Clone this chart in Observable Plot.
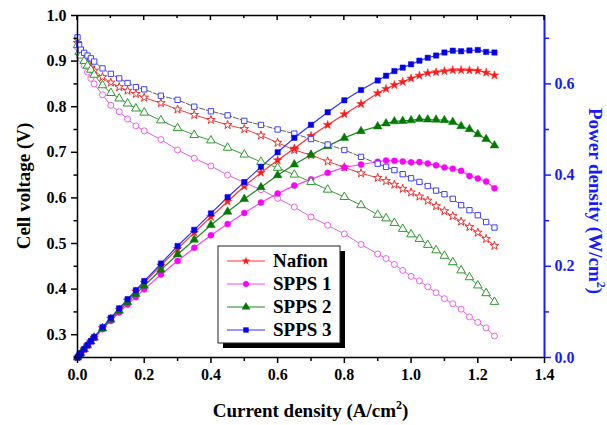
<!DOCTYPE html>
<html><head><meta charset="utf-8">
<script src="https://cdn.jsdelivr.net/npm/d3@7"></script>
<script src="https://cdn.jsdelivr.net/npm/@observablehq/plot@0.6"></script>
<style>body{margin:0;background:#fff}#chart{width:607px;height:425px}</style>
</head><body><div id="chart"></div>
<script>
// ---- data ----
const current = [0,0.005,0.01,0.02,0.03,0.04,0.05,0.075,0.1,0.125,0.15,0.175,0.2,0.25,0.3,0.35,0.4,0.45,0.5,0.55,0.6,0.65,0.7,0.75,0.8,0.85,0.9,0.925,0.95,0.975,1.0,1.025,1.05,1.075,1.1,1.125,1.15,1.175,1.2,1.225,1.25];
const seriesNames = ["Nafion","SPPS 1","SPPS 2","SPPS 3"];

const voltNafion = [0.94,0.925,0.915,0.905,0.895,0.886,0.879,0.865,0.853,0.843,0.835,0.828,0.82,0.808,0.794,0.782,0.771,0.76,0.751,0.737,0.721,0.705,0.694,0.68,0.667,0.654,0.644,0.637,0.629,0.62,0.612,0.603,0.594,0.582,0.571,0.56,0.548,0.536,0.524,0.51,0.495];
const voltSPPS1  = [0.93,0.915,0.905,0.89,0.876,0.862,0.85,0.826,0.803,0.789,0.773,0.758,0.747,0.728,0.705,0.687,0.67,0.65,0.634,0.618,0.599,0.58,0.558,0.54,0.521,0.498,0.477,0.467,0.454,0.441,0.428,0.418,0.405,0.392,0.379,0.368,0.356,0.339,0.327,0.315,0.297];
const voltSPPS2  = [0.935,0.92,0.912,0.9,0.89,0.881,0.87,0.847,0.83,0.818,0.807,0.796,0.787,0.77,0.753,0.738,0.726,0.71,0.695,0.679,0.666,0.651,0.635,0.618,0.602,0.584,0.563,0.555,0.545,0.532,0.52,0.51,0.497,0.485,0.473,0.459,0.441,0.426,0.408,0.391,0.372];
const voltSPPS3  = [0.952,0.935,0.925,0.918,0.912,0.906,0.899,0.884,0.872,0.862,0.852,0.843,0.838,0.824,0.815,0.8,0.79,0.781,0.769,0.76,0.75,0.741,0.729,0.717,0.705,0.69,0.675,0.668,0.661,0.652,0.643,0.635,0.626,0.616,0.608,0.598,0.584,0.573,0.562,0.547,0.535];

const powerNafion = [0,0.0046,0.0092,0.0181,0.0269,0.0354,0.044,0.0649,0.0853,0.1054,0.1253,0.1449,0.164,0.202,0.2382,0.2737,0.3084,0.342,0.3755,0.4054,0.4326,0.4583,0.4858,0.51,0.5336,0.5559,0.5796,0.5892,0.5976,0.6045,0.612,0.6181,0.6237,0.6257,0.6281,0.63,0.6302,0.6298,0.6288,0.6248,0.6188];
const powerSPPS1  = [0,0.0046,0.0091,0.0178,0.0263,0.0345,0.0425,0.062,0.0803,0.0986,0.116,0.1327,0.1494,0.182,0.2115,0.2405,0.268,0.2925,0.317,0.3399,0.3594,0.377,0.3906,0.405,0.4168,0.4233,0.4293,0.432,0.4313,0.43,0.428,0.4285,0.4253,0.4214,0.4169,0.414,0.4094,0.3983,0.3924,0.3859,0.3713];
const powerSPPS2  = [0,0.0046,0.0091,0.018,0.0267,0.0352,0.0435,0.0635,0.083,0.1023,0.121,0.1393,0.1574,0.1925,0.2259,0.2583,0.2904,0.3195,0.3475,0.3735,0.3996,0.4232,0.4445,0.4635,0.4816,0.4964,0.5067,0.5134,0.5178,0.5187,0.52,0.5228,0.5219,0.5214,0.5203,0.5164,0.5072,0.5006,0.4896,0.479,0.465];
const powerSPPS3  = [0,0.0047,0.0093,0.0184,0.0274,0.0362,0.045,0.0663,0.0872,0.1078,0.1278,0.1475,0.1676,0.206,0.2445,0.28,0.316,0.3515,0.3845,0.418,0.45,0.4817,0.5103,0.5378,0.564,0.5865,0.6075,0.6179,0.628,0.6357,0.643,0.6509,0.6573,0.6622,0.6688,0.6728,0.6716,0.6733,0.6744,0.6701,0.6688];

const xTicks = [0,0.2,0.4,0.6,0.8,1.0,1.2,1.4];
const xMinor = [0.1,0.3,0.5,0.7,0.9,1.1,1.3];
const vTicks = [0.3,0.4,0.5,0.6,0.7,0.8,0.9,1.0];
const vMinor = [0.25,0.35,0.45,0.55,0.65,0.75,0.85,0.95];
const pTicks = [0,0.2,0.4,0.6];
const pMinor = [0.1,0.3,0.5,0.7];

// ---- styling ----
const xDomain = [0, 1.4], vDomain = [0.25, 1.0], pDomain = [0, 0.75];
const symbols = ["star","circle","triangle","square"];
const symR = [2.7, 3, 3.2, 3];
const vLine = ["#f04040","#e060e0","#3a9a3a","#606060"];
const vMark = ["#f03030","#f060f0","#2e9a2e","#4040ff"];
const pLine = ["#ff3030","#ff40ff","#1e8a1e","#3030ff"];
const pMark = ["#ff1a1a","#ff00ff","#007a00","#0000ee"];
const BLUE = "#1a1aff";
const FONT = "'Liberation Serif','Times New Roman',serif";

const volts = [voltNafion, voltSPPS1, voltSPPS2, voltSPPS3];
const powers = [powerNafion, powerSPPS1, powerSPPS2, powerSPPS3];
const pToV = p => vDomain[0] + (p - pDomain[0]) * (vDomain[1]-vDomain[0])/(pDomain[1]-pDomain[0]);
const vToP = v => pDomain[0] + (v - vDomain[0]) * (pDomain[1]-pDomain[0])/(vDomain[1]-vDomain[0]);

const rows = [];
seriesNames.forEach((s, i) => current.forEach((c, j) => rows.push({s, i, c, v: volts[i][j], p: powers[i][j]})));

const marks = [];
seriesNames.forEach((s, i) => {
  const d = rows.filter(r => r.i === i);
  marks.push(Plot.line(d, {x: "c", y: "v", stroke: vLine[i], strokeWidth: 1, strokeDasharray: i===3 ? "5,2" : null}));
  marks.push(Plot.line(d, {x: "c", y: r => pToV(r.p), stroke: pLine[i], strokeWidth: 1.2}));
});
seriesNames.forEach((s, i) => {
  const d = rows.filter(r => r.i === i);
  marks.push(Plot.dot(d, {x: "c", y: "v", symbol: symbols[i], r: symR[i], stroke: vMark[i], strokeWidth: 1, fill: "white"}));
  marks.push(Plot.dot(d, {x: "c", y: r => pToV(r.p), symbol: symbols[i], r: symR[i], fill: pMark[i], stroke: pMark[i], strokeWidth: 0.5}));
});

const chart = Plot.plot({
  width: 607, height: 425,
  marginLeft: 77, marginRight: 63, marginTop: 15, marginBottom: 68,
  x: {domain: xDomain, label: null},
  y: {domain: vDomain, label: null},
  style: {fontFamily: FONT, fontWeight: "bold", fontSize: "16px", background: "white", color: "black"},
  marks: [
    ...marks,
    Plot.ruleY([vDomain[0]], {stroke: "black", strokeWidth: 1.5}),
    Plot.ruleY([vDomain[1]], {stroke: "black", strokeWidth: 1.5}),
    Plot.ruleX([xDomain[0]], {stroke: "black", strokeWidth: 1.5}),
    Plot.ruleX([xDomain[1]], {stroke: BLUE, strokeWidth: 2}),
    Plot.axisX(xTicks, {anchor: "bottom", tickSize: 6, tickPadding: 5, strokeWidth: 1.5, tickFormat: d => d.toFixed(1), label: null, fontSize: 16}),
    Plot.axisX(xMinor, {anchor: "bottom", tickSize: 4, strokeWidth: 1.5, tickFormat: () => "", label: null}),
    Plot.axisY(vTicks, {anchor: "left", tickSize: 6, tickPadding: 5, strokeWidth: 1.5, tickFormat: d => d.toFixed(1), label: null, fontSize: 16}),
    Plot.axisY(vMinor, {anchor: "left", tickSize: 3.5, strokeWidth: 1.5, tickFormat: () => "", label: null}),
    Plot.axisY(pTicks.map(pToV), {anchor: "right", color: BLUE, tickSize: 6, tickPadding: 4, strokeWidth: 1.5, tickFormat: d => vToP(d).toFixed(1), label: null, fontSize: 16}),
    Plot.axisY(pMinor.map(pToV), {anchor: "right", color: BLUE, tickSize: 4, strokeWidth: 1.5, tickFormat: () => "", label: null})
  ]
});
document.getElementById("chart").appendChild(chart);

// ---- extras: inner top ticks, titles, legend ----
const svg = d3.select(chart);
const xs = chart.scale("x"), ys = chart.scale("y");
const topY = ys.apply(vDomain[1]);
[...xTicks, ...xMinor].forEach(t => {
  const major = xTicks.includes(t);
  svg.append("line").attr("x1", xs.apply(t)).attr("x2", xs.apply(t))
    .attr("y1", topY).attr("y2", topY + (major ? 5 : 3))
    .attr("stroke", "black").attr("stroke-width", 1.5);
});

const plotCx = (xs.apply(xDomain[0]) + xs.apply(xDomain[1])) / 2;
const plotCy = (ys.apply(vDomain[0]) + ys.apply(vDomain[1])) / 2;

const xt = svg.append("text").attr("x", plotCx).attr("y", 417).attr("text-anchor", "middle")
  .attr("font-family", FONT).attr("font-weight", "bold").attr("font-size", 19).attr("fill", "black");
xt.append("tspan").text("Current density (A/cm");
xt.append("tspan").attr("dy", -8).attr("font-size", 12).text("2");
xt.append("tspan").attr("dy", 8).text(")");

svg.append("text").attr("transform", `translate(30,${plotCy}) rotate(-90)`).attr("text-anchor", "middle")
  .attr("font-family", FONT).attr("font-weight", "bold").attr("font-size", 19).attr("fill", "black")
  .text("Cell voltage (V)");

const pt = svg.append("text").attr("transform", `translate(589,${plotCy + 15}) rotate(90)`).attr("text-anchor", "middle")
  .attr("font-family", FONT).attr("font-weight", "bold").attr("font-size", 19).attr("fill", BLUE);
pt.append("tspan").text("Power density (W/cm");
pt.append("tspan").attr("dy", -8).attr("font-size", 12).text("2");
pt.append("tspan").attr("dy", 8).text(")");

// legend
const lg = svg.append("g");
const bx = 218, by = 246, bw = 122, bh = 97;
lg.append("rect").attr("x", bx + 5).attr("y", by + 5).attr("width", bw).attr("height", bh).attr("fill", "black");
lg.append("rect").attr("x", bx).attr("y", by).attr("width", bw).attr("height", bh).attr("fill", "white").attr("stroke", "#222").attr("stroke-width", 1);
const d3sym = {star: d3.symbolStar, circle: d3.symbolCircle, triangle: d3.symbolTriangle, square: d3.symbolSquare};
seriesNames.forEach((s, i) => {
  const y = by + 15 + i * 23;
  lg.append("line").attr("x1", bx + 9).attr("x2", bx + 47).attr("y1", y).attr("y2", y).attr("stroke", pLine[i]).attr("stroke-width", 1.2);
  lg.append("path").attr("d", d3.symbol(d3sym[symbols[i]], Math.PI * symR[i] ** 2)())
    .attr("transform", `translate(${bx + 28},${y})`).attr("fill", pMark[i]);
  lg.append("text").attr("x", bx + 55).attr("y", y + 6).attr("text-anchor", "start").attr("font-family", FONT).attr("font-weight", "bold")
    .attr("font-size", 19).attr("fill", "black").text(s);
});
</script>
</body></html>
